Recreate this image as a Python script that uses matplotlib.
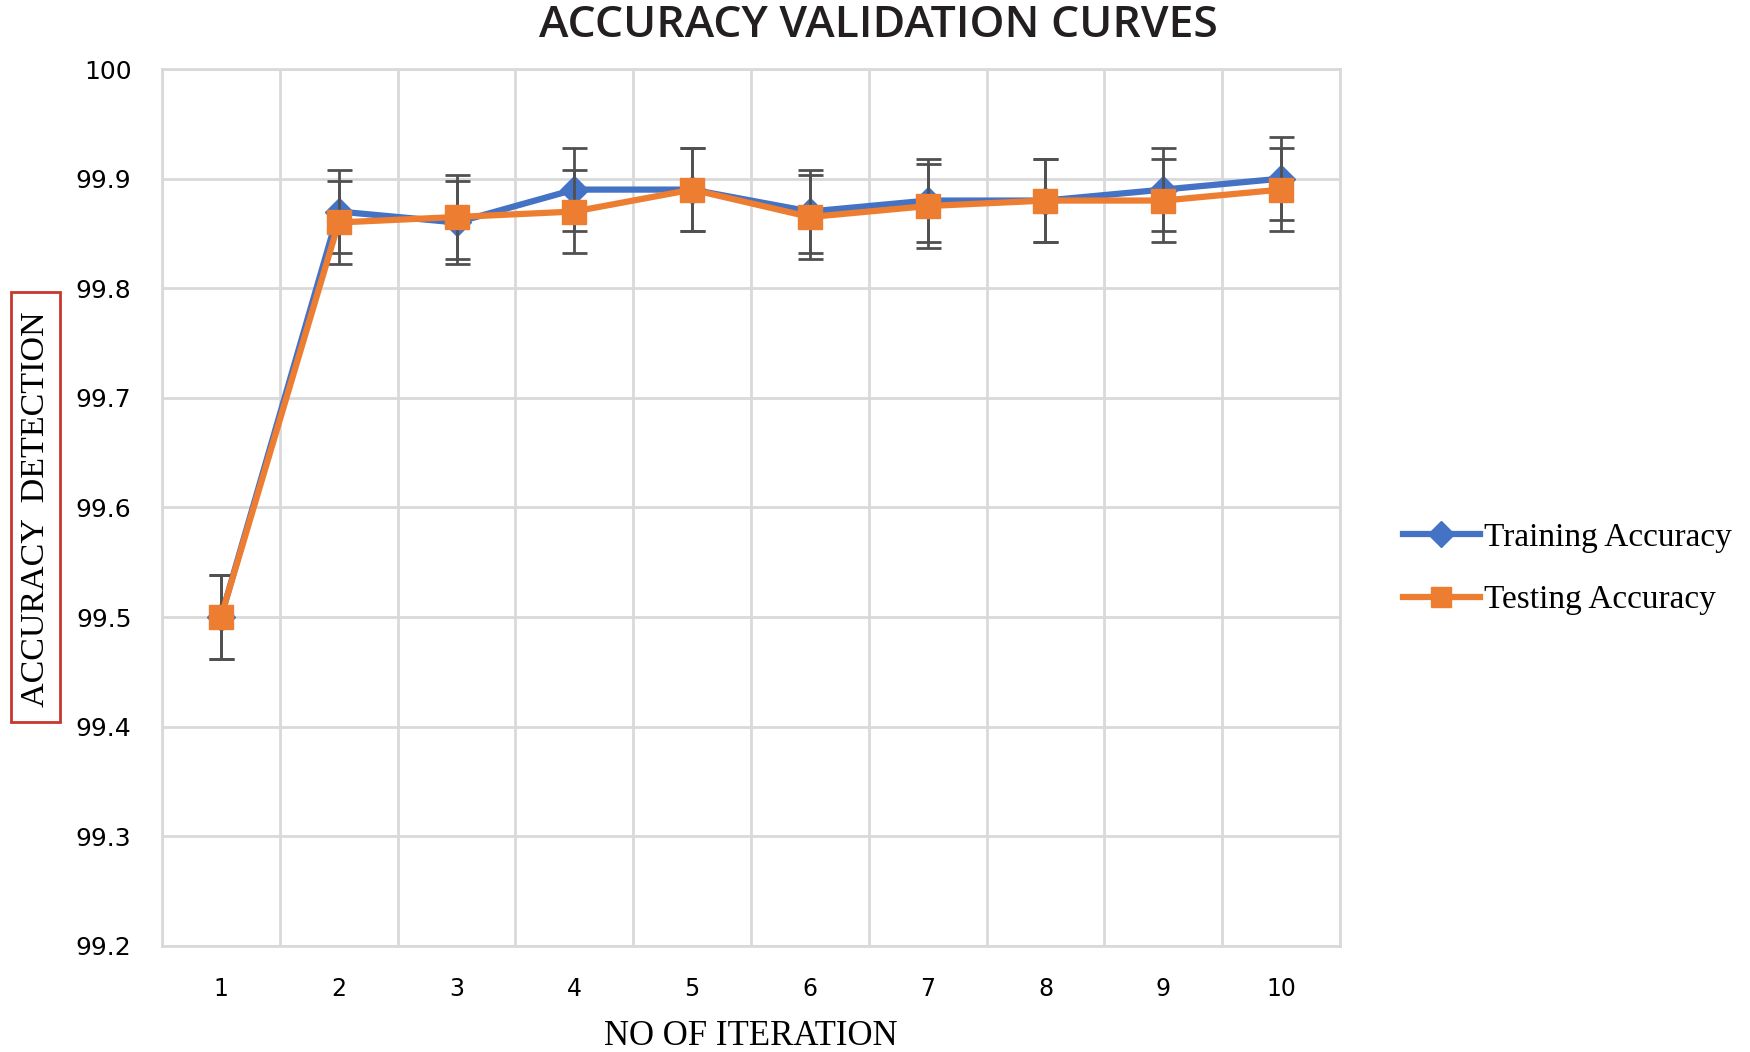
import matplotlib
matplotlib.use("Agg")
import matplotlib.pyplot as plt
from matplotlib.patches import Rectangle
from matplotlib.lines import Line2D
from matplotlib.ticker import FixedLocator

# data
iterations = [1, 2, 3, 4, 5, 6, 7, 8, 9, 10]
training_acc = [99.50, 99.87, 99.86, 99.89, 99.89, 99.87, 99.88, 99.88, 99.89, 99.90]
testing_acc = [99.50, 99.86, 99.865, 99.87, 99.89, 99.865, 99.875, 99.88, 99.88, 99.89]
training_err = [0.038] * 10
testing_err = [0.038] * 10
y_ticks = [99.2, 99.3, 99.4, 99.5, 99.6, 99.7, 99.8, 99.9, 100]
y_tick_labels = ["99.2", "99.3", "99.4", "99.5", "99.6", "99.7", "99.8", "99.9", "100"]

blue = "#4472C4"
orange = "#ED7D31"
grid_col = "#D9D9D9"
err_col = "#505050"

fig = plt.figure(figsize=(17.5, 10.52), dpi=100)
ax = fig.add_axes([0.0926, 0.1008, 0.6731, 0.8336])

ax.errorbar(iterations, training_acc, yerr=training_err, color=blue, lw=4.5,
            marker="D", markersize=14, ecolor=err_col, elinewidth=2,
            capsize=9, capthick=2, zorder=3)
ax.errorbar(iterations, testing_acc, yerr=testing_err, color=orange, lw=4.5,
            marker="s", markersize=17, ecolor=err_col, elinewidth=2,
            capsize=9, capthick=2, zorder=4)

ax.set_xlim(0.5, 10.5)
ax.set_ylim(99.2, 100)
ax.set_xticks(iterations)
ax.set_xticklabels([str(i) for i in iterations], fontsize=17, family="DejaVu Sans")
ax.xaxis.set_minor_locator(FixedLocator([i + 0.5 for i in range(0, 11)]))
ax.set_yticks(y_ticks)
ax.set_yticklabels(y_tick_labels, fontsize=18, family="DejaVu Sans")
ax.tick_params(axis="both", which="both", length=0)
ax.tick_params(axis="y", pad=22)
ax.tick_params(axis="x", pad=22)
ax.grid(axis="y", which="major", color=grid_col, lw=2)
ax.grid(axis="x", which="minor", color=grid_col, lw=2)
ax.set_axisbelow(True)
for s in ax.spines.values():
    s.set_color(grid_col)
    s.set_linewidth(2)

ax.set_xlabel("NO OF ITERATION", fontsize=25, family="Liberation Serif", labelpad=14)

fig.text(0.0206, 0.516, "ACCURACY  DETECTION", rotation=90, ha="center", va="center",
         fontsize=24.5, family="Liberation Serif")
fig.patches.append(Rectangle((0.0063, 0.314), 0.028, 0.408, transform=fig.transFigure,
                             fill=False, edgecolor="#C8372D", lw=2))

fig.text(0.502, 0.976, "ACCURACY VALIDATION CURVES", ha="center", va="center",
         fontsize=32, family="Open Sans", fontweight="semibold", color="#231F20")

handles = [
    Line2D([], [], color=blue, lw=4.5, marker="D", markersize=13),
    Line2D([], [], color=orange, lw=4.5, marker="s", markersize=15),
]
ax.legend(handles, ["Training Accuracy", "Testing Accuracy"], loc="center left",
          bbox_to_anchor=(1.028, 0.43), frameon=False,
          prop={"family": "Liberation Serif", "size": 24}, handlelength=2.3,
          handletextpad=0.12, labelspacing=0.95)

fig.savefig("out.png", dpi=100)
